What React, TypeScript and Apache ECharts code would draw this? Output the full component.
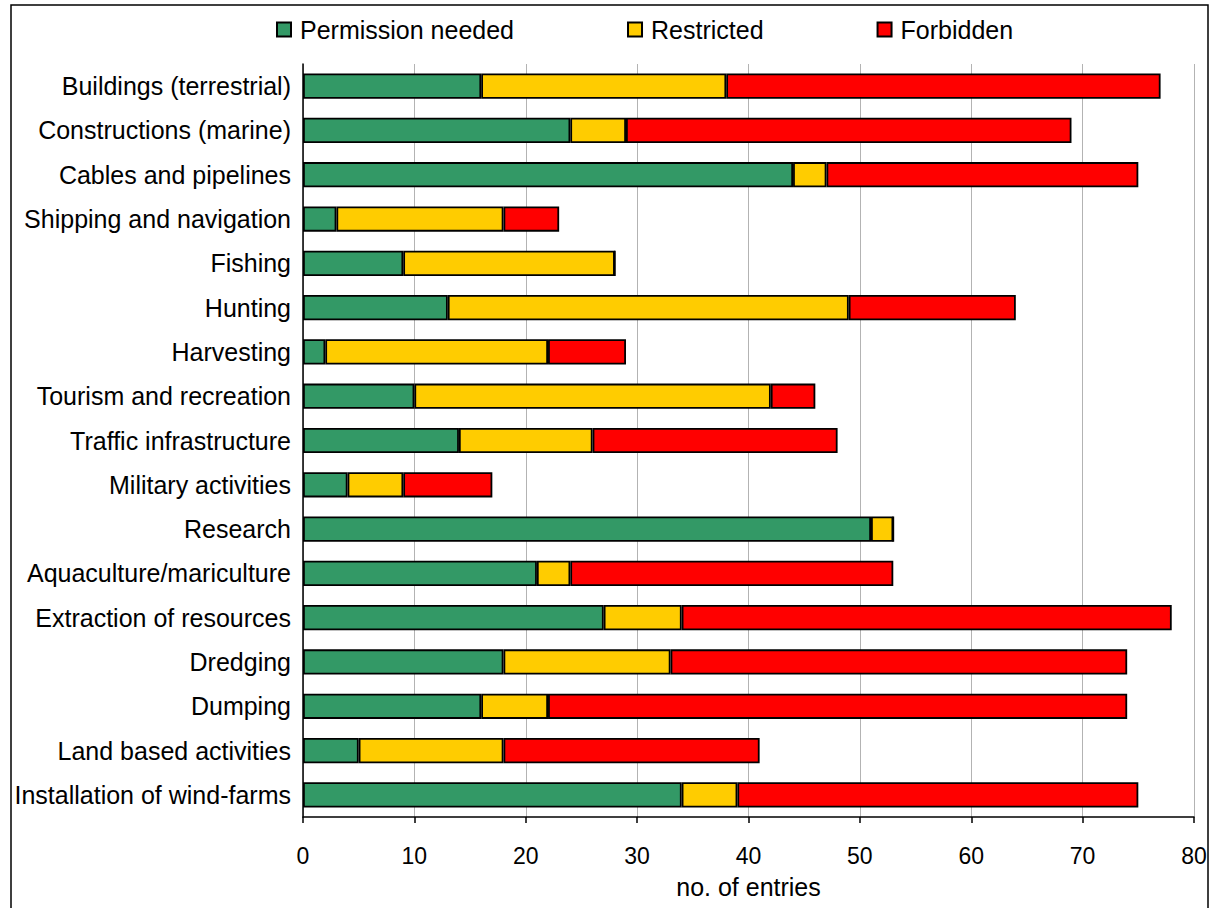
import React, { useEffect, useRef } from "react";
import * as echarts from "echarts";

const categories = [
  "Buildings (terrestrial)",
  "Constructions (marine)",
  "Cables and pipelines",
  "Shipping and navigation",
  "Fishing",
  "Hunting",
  "Harvesting",
  "Tourism and recreation",
  "Traffic infrastructure",
  "Military activities",
  "Research",
  "Aquaculture/mariculture",
  "Extraction of resources",
  "Dredging",
  "Dumping",
  "Land based activities",
  "Installation of wind-farms",
];

const permissionNeeded = [16, 24, 44, 3, 9, 13, 2, 10, 14, 4, 51, 21, 27, 18, 16, 5, 34];
const restricted = [22, 5, 3, 15, 19, 36, 20, 32, 12, 5, 2, 3, 7, 15, 6, 13, 5];
const forbidden = [39, 40, 28, 5, 0, 15, 7, 4, 22, 8, 0, 29, 44, 41, 52, 23, 36];

const xTicks = [0, 80, 10];

const seriesNames = ["Permission needed", "Restricted", "Forbidden"];
const seriesColors = ["#339966", "#FFCC00", "#FF0000"];

const FONT = "Liberation Sans, Arial, sans-serif";

export default function App() {
  const ref = useRef<HTMLDivElement>(null);
  useEffect(() => {
    if (!ref.current) return;
    const chart = echarts.init(ref.current, undefined, { renderer: "svg" });
    const datasets = [permissionNeeded, restricted, forbidden];
    chart.setOption({
      animation: false,
      backgroundColor: "#ffffff",
      textStyle: { fontFamily: FONT },
      graphic: [
        {
          type: "rect",
          shape: { x: 11, y: 5, width: 1197, height: 910 },
          style: { fill: "none", stroke: "#000", lineWidth: 1.5 },
          silent: true,
          z: -1,
        },
      ],
      legend: {
        left: 271,
        top: 12,
        itemWidth: 14,
        itemHeight: 14,
        itemGap: 113,
        icon: "rect",
        textStyle: { fontSize: 25, color: "#000", fontFamily: FONT, padding: [0, 0, 0, 4] },
        data: seriesNames,
      },
      grid: { left: 303, right: 20, top: 64, bottom: 91, containLabel: false },
      xAxis: {
        type: "value",
        min: xTicks[0],
        max: xTicks[1],
        interval: xTicks[2],
        name: "no. of entries",
        nameLocation: "middle",
        nameGap: 57,
        nameTextStyle: { fontSize: 25, color: "#000", fontFamily: FONT },
        axisLine: { show: true, lineStyle: { color: "#000", width: 1.5 } },
        axisTick: { show: true, inside: false, length: 6, lineStyle: { color: "#000", width: 1.5 } },
        axisLabel: {
          fontSize: 23,
          color: "#000",
          margin: 27,
          fontFamily: "Liberation Sans Narrow, Arial Narrow, Liberation Sans, sans-serif",
        },
        splitLine: { show: true, lineStyle: { color: "#b3b3b3", width: 1 } },
      },
      yAxis: {
        type: "category",
        data: categories,
        inverse: true,
        axisLine: { show: true, lineStyle: { color: "#000", width: 1.5 } },
        axisTick: { show: false },
        axisLabel: { fontSize: 25, color: "#000", margin: 12, fontFamily: FONT },
      },
      series: seriesNames.map((name, i) => ({
        name,
        type: "bar",
        stack: "total",
        data: datasets[i],
        barCategoryGap: "43%",
        itemStyle: { color: seriesColors[i], borderColor: "#000", borderWidth: 1.8 },
      })),
    });
    return () => chart.dispose();
  }, []);
  return (
    <div
      ref={ref}
      style={{ position: "absolute", left: 0, top: 0, width: 1214, height: 908 }}
    />
  );
}
